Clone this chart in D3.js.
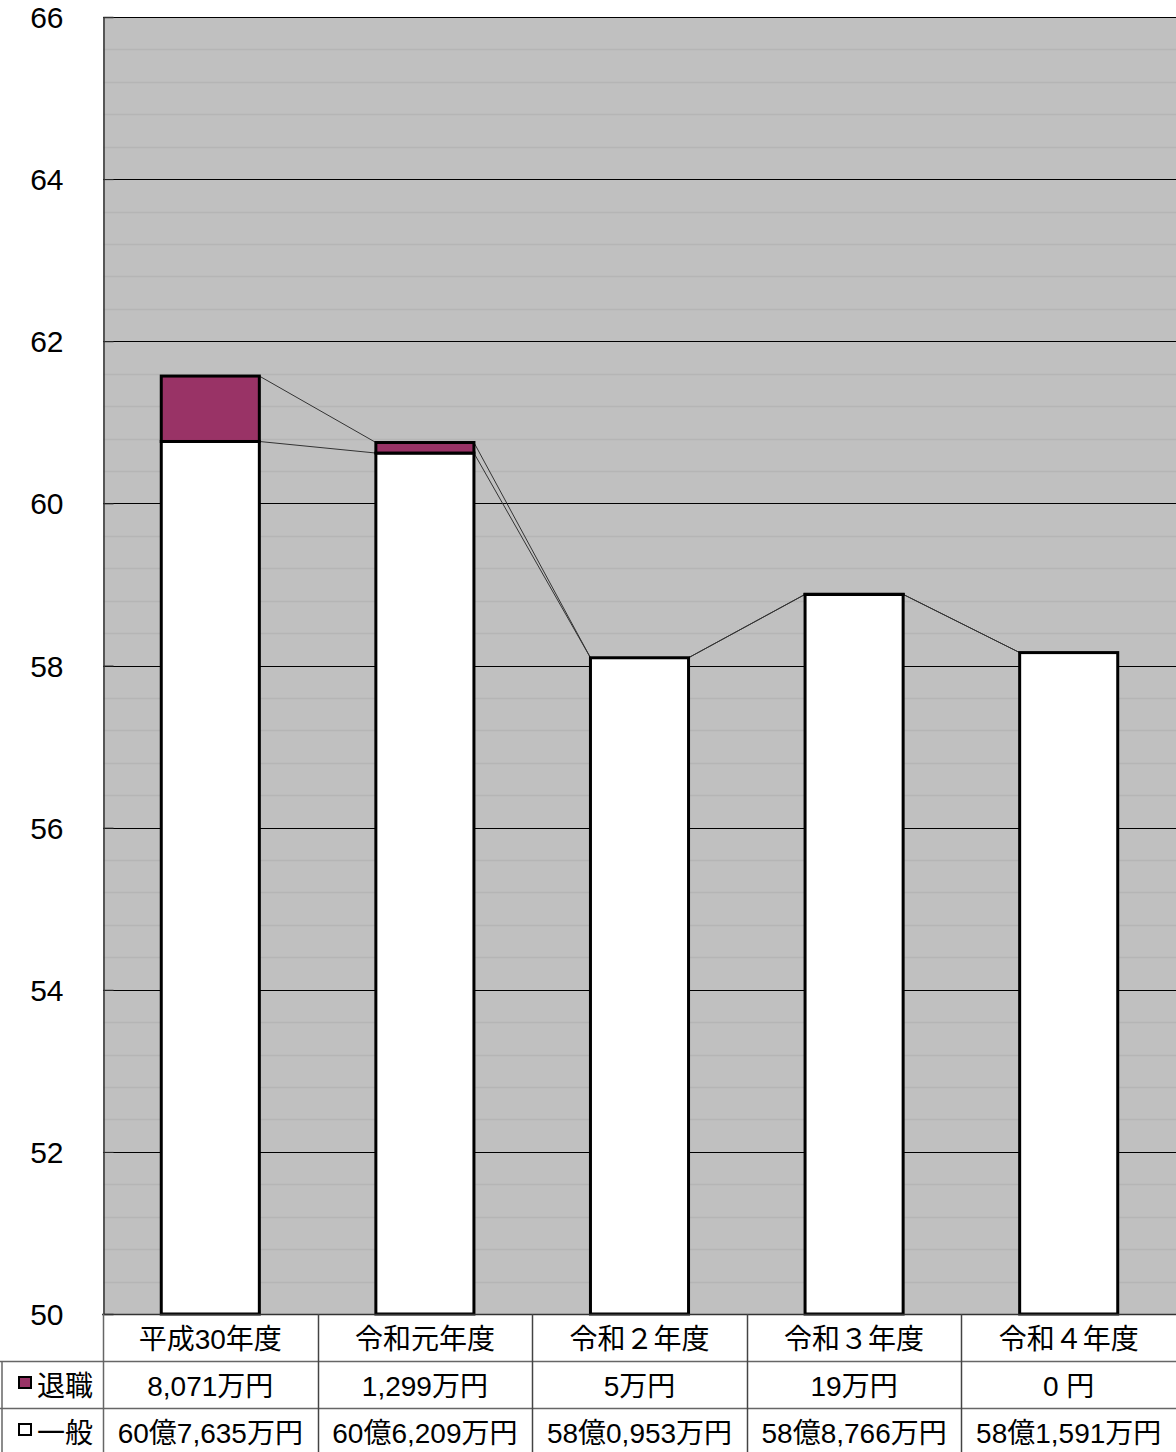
<!DOCTYPE html>
<html><head><meta charset="utf-8">
<script src="https://cdn.jsdelivr.net/npm/d3@7"></script>
<style>body{margin:0;background:#fff}svg{display:block}</style>
</head><body>
<script>
const categories = ["平成30年度","令和元年度","令和２年度","令和３年度","令和４年度"];
const generalValues = [60.7635, 60.6209, 58.0953, 58.8766, 58.1591];
const retireValues = [0.8071, 0.1299, 0.0005, 0.0019, 0];
const generalLabels = ["60億7,635万円","60億6,209万円","58億0,953万円","58億8,766万円","58億1,591万円"];
const retireLabels = ["8,071万円","1,299万円","5万円","19万円","0 円"];
const yTicks = [50,52,54,56,58,60,62,64,66];
const seriesNames = ["退職","一般"];

const W = 1176, H = 1452;
const L = 103, R = 1176, T = 17, B = 1314;
const svg = d3.select("body").append("svg").attr("width", W).attr("height", H);

const y = d3.scaleLinear().domain([50,66]).range([B,T]);
const x = d3.scaleBand().domain(categories).range([L,R]).paddingInner(0.543).paddingOuter(0.2715);

// background
svg.append("rect").attr("x",L).attr("y",T).attr("width",R-L).attr("height",B-T).attr("fill","#c0c0c0");
// minor grid
const minor = d3.range(50,66.001,0.4).filter(v => Math.abs(v/2-Math.round(v/2))>1e-6);
svg.append("g").selectAll("line").data(minor).join("line")
  .attr("x1",L).attr("x2",R).attr("y1",d=>Math.round(y(d))+0.5).attr("y2",d=>Math.round(y(d))+0.5)
  .attr("stroke","#b5b5b5").attr("stroke-width",1.5);
// major grid
svg.append("g").selectAll("line").data(yTicks.filter(v=>v>50)).join("line")
  .attr("x1",L).attr("x2",R).attr("y1",d=>Math.round(y(d))+0.5).attr("y2",d=>Math.round(y(d))+0.5)
  .attr("stroke","#000").attr("stroke-width",1);

// axis
const yAxis = d3.axisLeft(y).tickValues(yTicks).tickSize(-10).tickFormat(d3.format("d"));
const ga = svg.append("g").attr("transform",`translate(${L+0.5},0)`).call(yAxis);
ga.select(".domain").attr("stroke","#333").attr("stroke-width",1.5);
ga.selectAll(".tick line").attr("stroke","#333");
ga.selectAll(".tick text").attr("x",-40).attr("dy","0.35em").attr("text-anchor","end")
  .attr("font-family","Liberation Sans, Arial, sans-serif").attr("font-size",30).attr("fill","#000");

// connector lines
const bw = x.bandwidth();
const tots = generalValues.map((g,i)=>g+retireValues[i]);
const conn = svg.append("g").attr("stroke","#333").attr("stroke-width",1).attr("fill","none");
for (let i=0;i<categories.length-1;i++){
  const x1 = x(categories[i])+bw, x2 = x(categories[i+1]);
  conn.append("line").attr("x1",x1).attr("x2",x2).attr("y1",y(generalValues[i])).attr("y2",y(generalValues[i+1]));
  conn.append("line").attr("x1",x1).attr("x2",x2).attr("y1",y(tots[i])).attr("y2",y(tots[i+1]));
}

// bars
const gb = svg.append("g");
gb.selectAll("rect.gen").data(categories).join("rect").attr("class","gen")
  .attr("x",d=>x(d)).attr("width",bw)
  .attr("y",(d,i)=>y(generalValues[i])).attr("height",(d,i)=>y(50)-y(generalValues[i]))
  .attr("fill","#fff").attr("stroke","#000").attr("stroke-width",3);
gb.selectAll("rect.ret").data(categories.filter((d,i)=>retireValues[i]>0.001)).join("rect").attr("class","ret")
  .attr("x",d=>x(d)).attr("width",bw)
  .attr("y",d=>{const i=categories.indexOf(d);return y(tots[i]);})
  .attr("height",d=>{const i=categories.indexOf(d);return y(generalValues[i])-y(tots[i]);})
  .attr("fill","#993366").attr("stroke","#000").attr("stroke-width",3);

// table
const tg = svg.append("g");
const step = x.step();
const colEdges = d3.range(0,categories.length+1).map(i=>L+i*step);
tg.append("line").attr("x1",0).attr("x2",R).attr("y1",1361.5).attr("y2",1361.5).attr("stroke","#666").attr("stroke-width",1.5);
tg.append("line").attr("x1",0).attr("x2",R).attr("y1",1408.5).attr("y2",1408.5).attr("stroke","#666").attr("stroke-width",1.5);
tg.append("line").attr("x1",L-1).attr("x2",R).attr("y1",B+0.5).attr("y2",B+0.5).attr("stroke","#333").attr("stroke-width",1.5);
tg.append("line").attr("x1",2).attr("x2",2).attr("y1",1361).attr("y2",H).attr("stroke","#666").attr("stroke-width",1.5);
colEdges.slice(0,-1).forEach((cx,i)=>{
  tg.append("line").attr("x1",Math.round(cx)+0.5).attr("x2",Math.round(cx)+0.5).attr("y1",B).attr("y2",H)
    .attr("stroke", i===0?"#666":"#444").attr("stroke-width",1.5);
});
const tf = "Liberation Sans, Noto Sans CJK JP, sans-serif";
const fs = 28;
const cx = d=>x(d)+bw/2;
tg.selectAll("text.cat").data(categories).join("text").attr("class","cat")
  .attr("x",cx).attr("y",1339).attr("dy","0.35em").attr("text-anchor","middle")
  .attr("font-family",tf).attr("font-size",fs).text(d=>d);
tg.selectAll("text.ret").data(categories).join("text").attr("class","ret")
  .attr("x",cx).attr("y",1386).attr("dy","0.35em").attr("text-anchor","middle")
  .attr("font-family",tf).attr("font-size",fs).text((d,i)=>retireLabels[i]);
tg.selectAll("text.gen").data(categories).join("text").attr("class","gen")
  .attr("x",cx).attr("y",1433).attr("dy","0.35em").attr("text-anchor","middle")
  .attr("font-family",tf).attr("font-size",fs).text((d,i)=>generalLabels[i]);

// legend
const legColors = ["#993366","#ffffff"];
const legY = [1386,1433];
seriesNames.forEach((n,i)=>{
  tg.append("rect").attr("x",19).attr("y",legY[i]-9).attr("width",12).attr("height",11)
    .attr("fill",legColors[i]).attr("stroke","#000").attr("stroke-width",2);
  tg.append("text").attr("x",37).attr("y",legY[i]).attr("dy","0.35em")
    .attr("font-family",tf).attr("font-size",fs).text(n);
});
</script>
</body></html>
